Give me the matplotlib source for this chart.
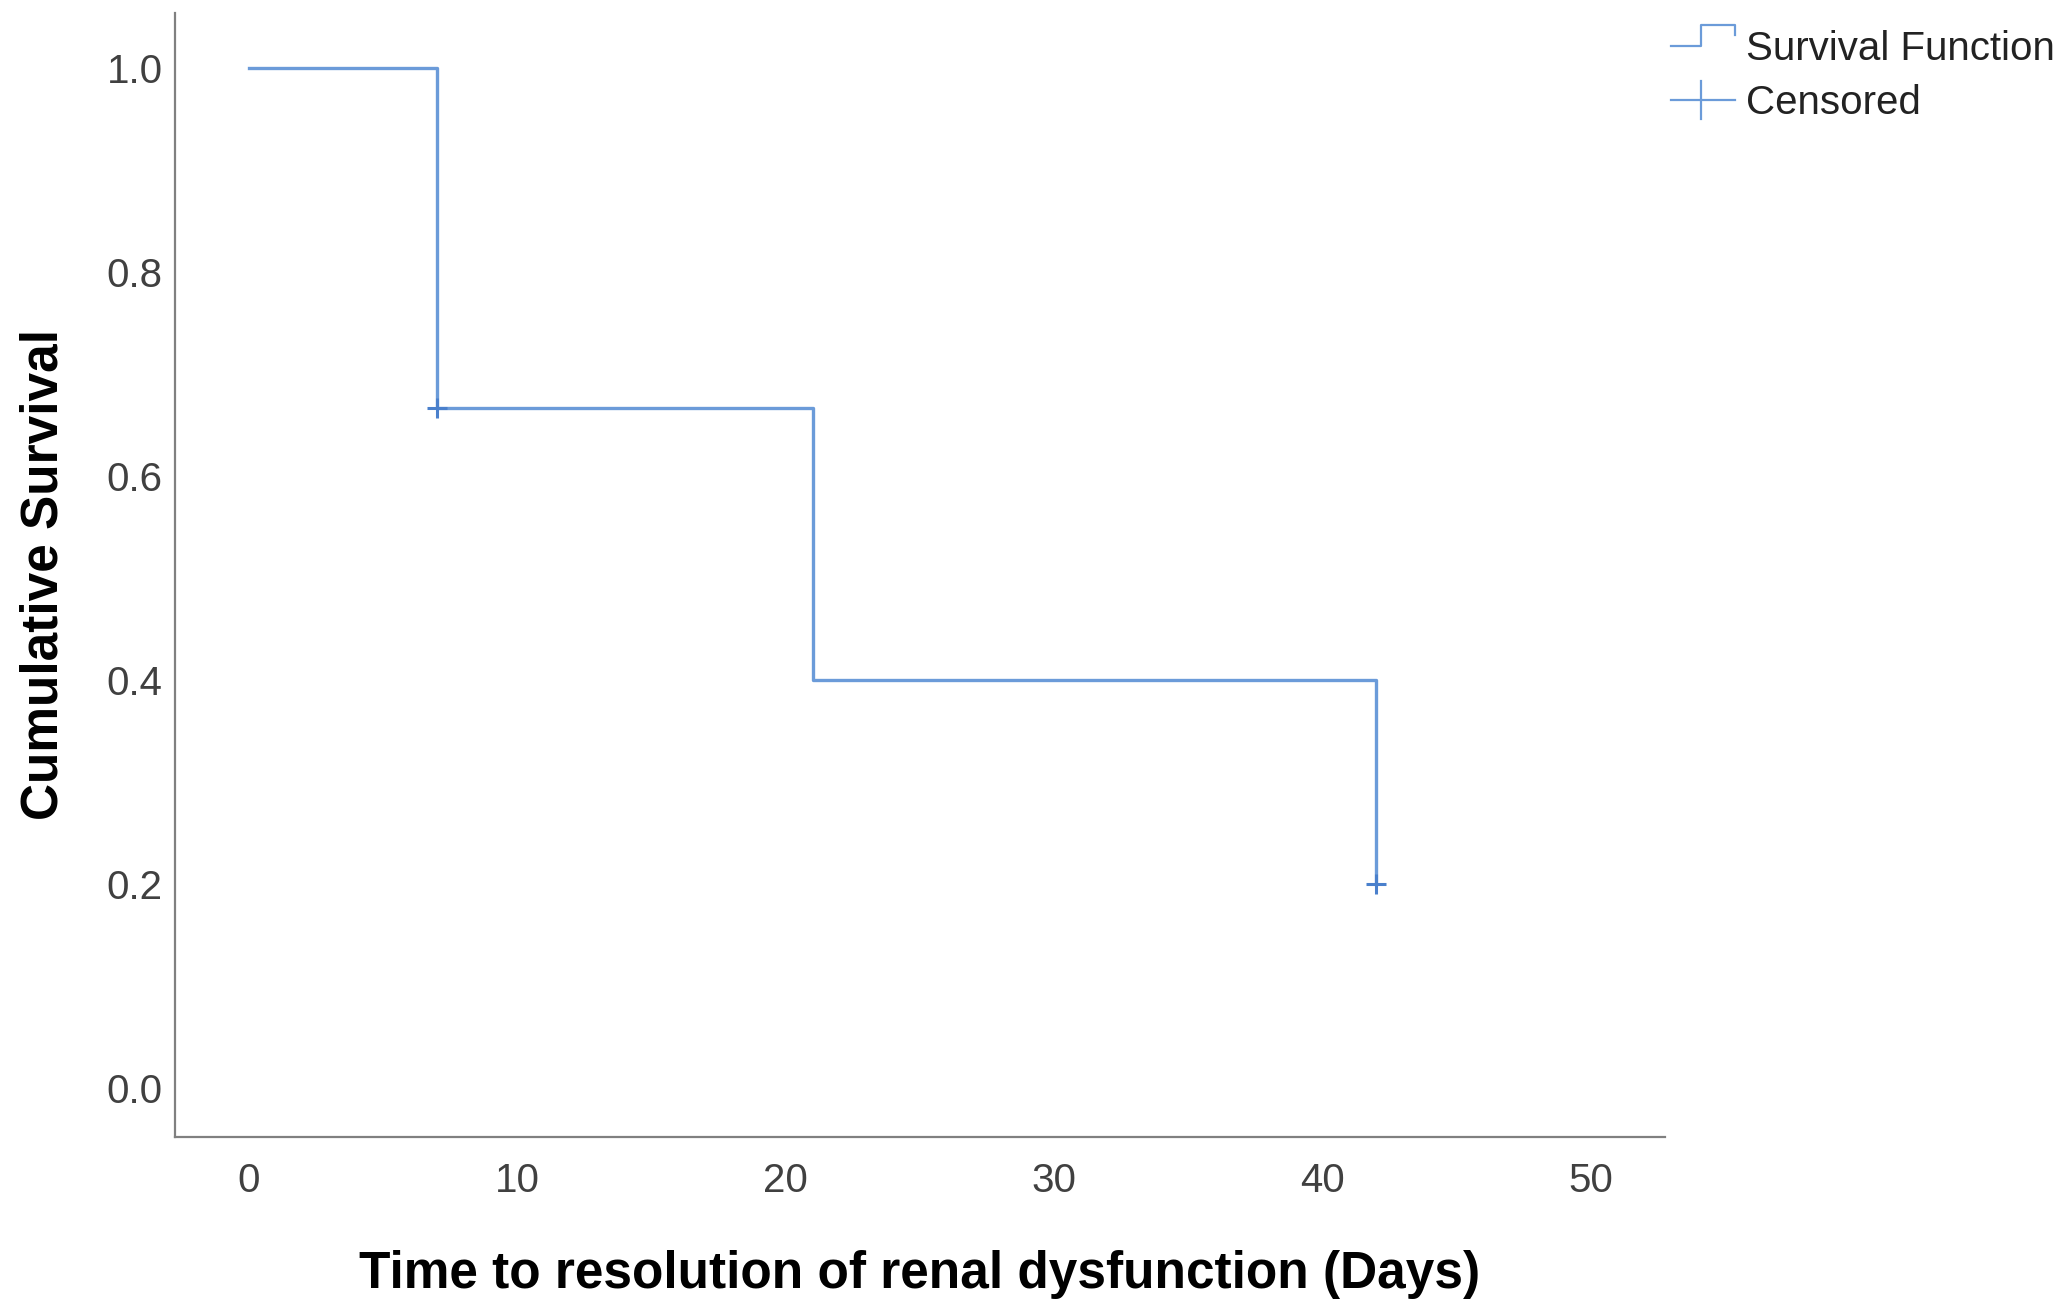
import numpy as np
import matplotlib
matplotlib.use('Agg')
import matplotlib.pyplot as plt
from matplotlib.legend_handler import HandlerBase
from matplotlib.lines import Line2D

# Kaplan-Meier estimate
event_days = [0, 7, 21, 42]
survival = [1.0, 0.667, 0.4, 0.2]
censored_days = [7, 42]
censored_surv = [0.667, 0.2]

x_ticks = [0, 10, 20, 30, 40, 50]
y_ticks = [0.0, 0.2, 0.4, 0.6, 0.8, 1.0]
legend_labels = ['Survival Function', 'Censored']

line_color = '#6b9bd9'
mark_color = '#4a80cc'
text_color = '#404040'

plt.rcParams['font.family'] = ['Liberation Sans', 'DejaVu Sans']


class StepHandler(HandlerBase):
    """Little step icon like the one SPSS uses for the survival curve."""
    def create_artists(self, legend, orig_handle, xdescent, ydescent,
                       width, height, fontsize, trans):
        x0 = -xdescent
        xm = x0 + 0.47 * width
        x1 = x0 + width
        yc = -ydescent + 0.5 * height
        yhi = yc + 0.52 * fontsize
        xs = [x0, xm, xm, x1, x1]
        ys = [yc, yc, yhi, yhi, yhi - 0.26 * fontsize]
        line = Line2D(xs, ys, color=line_color, lw=1.6, transform=trans)
        return [line]


class PlusHandler(HandlerBase):
    def create_artists(self, legend, orig_handle, xdescent, ydescent,
                       width, height, fontsize, trans):
        x0 = -xdescent
        xm = x0 + 0.47 * width
        yc = -ydescent + 0.5 * height
        h = Line2D([x0, x0 + width], [yc, yc], color=line_color, lw=1.6, transform=trans)
        v = Line2D([xm, xm], [yc - 0.47 * fontsize, yc + 0.47 * fontsize],
                   color=line_color, lw=1.6, transform=trans)
        return [h, v]


fig = plt.figure(figsize=(20.67, 13.01), dpi=100)
ax = fig.add_axes([175 / 2067, 1 - 1137 / 1301, 1490 / 2067, 1124 / 1301])

ax.step(event_days, survival, where='post', color=line_color, lw=2.4)
ax.plot(censored_days, censored_surv, linestyle='none', marker='+',
        markersize=15, markeredgewidth=2.2, color=mark_color)

ax.set_xlim(-2.75, 52.75)
ax.set_ylim(-0.048, 1.054)
ax.set_xticks(x_ticks)
ax.set_yticks(y_ticks)
ax.set_xticklabels([str(t) for t in x_ticks])
ax.set_yticklabels(['%.1f' % t for t in y_ticks])
ax.tick_params(axis='both', length=0, labelsize=29, labelcolor=text_color)
ax.tick_params(axis='y', pad=9)
ax.tick_params(axis='x', pad=18)

for side in ['top', 'right']:
    ax.spines[side].set_visible(False)
for side in ['left', 'bottom']:
    ax.spines[side].set_color('#808080')
    ax.spines[side].set_linewidth(1.6)

ax.set_xlabel('Time to resolution of renal dysfunction (Days)',
              fontsize=37, fontweight='bold', color='black')
ax.set_ylabel('Cumulative Survival', fontsize=37, fontweight='bold', color='black')
ax.xaxis.set_label_coords(0.5, -0.1219)
ax.xaxis.label.set_va('center')
ax.yaxis.set_label_coords(-0.088, 0.5)
ax.yaxis.label.set_va('center')

h1 = Line2D([], [], color=line_color)
h2 = Line2D([], [], color=line_color, marker='+')
fig.legend([h1, h2], legend_labels, loc='upper left',
           bbox_to_anchor=(1671 / 2067, 1 - 30 / 1301),
           bbox_transform=fig.transFigure, frameon=False, fontsize=29,
           handlelength=1.6, handletextpad=0.25, borderpad=0,
           borderaxespad=0, labelspacing=0.4, labelcolor='#222222',
           handler_map={h1: StepHandler(), h2: PlusHandler()})

fig.savefig('out.png', dpi=100)
